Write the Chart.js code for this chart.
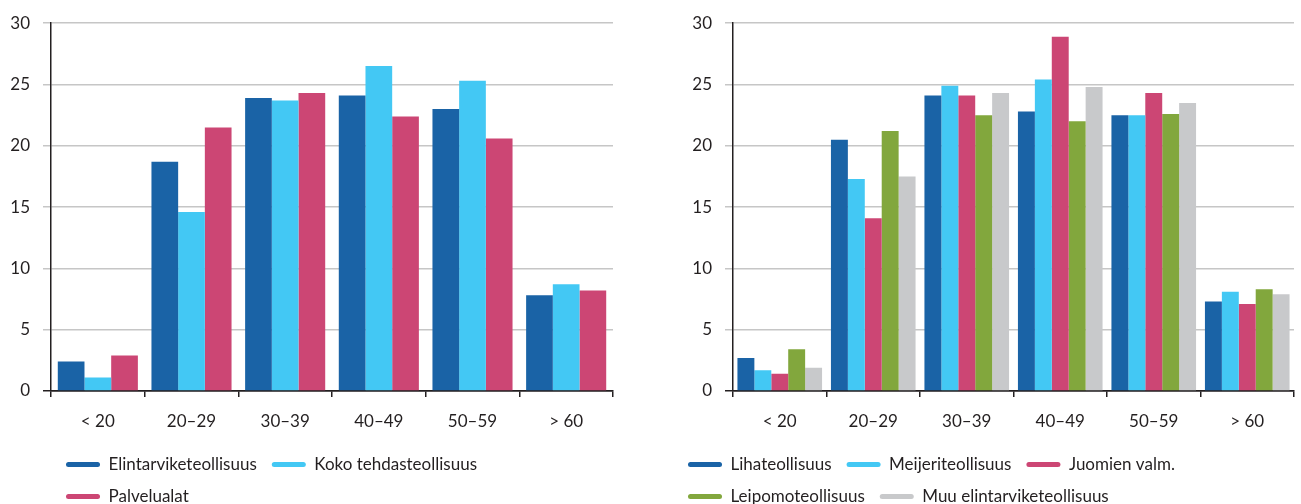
<!DOCTYPE html>
<html>
<head>
<meta charset="utf-8">
<script src="https://cdn.jsdelivr.net/npm/chart.js@4.4.1/dist/chart.umd.min.js"></script>
<style>
    html, body { margin: 0; padding: 0; background: #fff; width: 1301px; height: 504px; overflow: hidden; }
    .box { position: absolute; top: 0; height: 515px; }
    #box-left { left: 0; width: 620px; }
    #box-right { left: 673px; width: 628px; }
</style>
</head>
<body>
<div class="box" id="box-left"><canvas id="chart-left"></canvas></div>
<div class="box" id="box-right"><canvas id="chart-right"></canvas></div>
<script>
// ============================================
// DATA
// ============================================

const ageGroups = ['< 20', '20–29', '30–39', '40–49', '50–59', '> 60'];

// Left chart: share of employees by age group (%)
const elintarviketeollisuus = [2.4, 18.7, 23.9, 24.1, 23.0, 7.8];
const kokoTehdasteollisuus  = [1.1, 14.6, 23.7, 26.5, 25.3, 8.7];
const palvelualat           = [2.9, 21.5, 24.3, 22.4, 20.6, 8.2];

// Right chart: food industry branches (%)
const lihateollisuus      = [2.7, 20.5, 24.1, 22.8, 22.5, 7.3];
const meijeriteollisuus   = [1.7, 17.3, 24.9, 25.4, 22.5, 8.1];
const juomienValm         = [1.4, 14.1, 24.1, 28.9, 24.3, 7.1];
const leipomoteollisuus   = [3.4, 21.2, 22.5, 22.0, 22.6, 8.3];
const muuElintarvike      = [1.9, 17.5, 24.3, 24.8, 23.5, 7.9];

const yMin = 0, yMax = 30, yStep = 5;

// ============================================
// STYLE
// ============================================

const colors = {
    darkBlue: '#1a63a6',
    lightBlue: '#43c8f4',
    pink: '#cc4674',
    green: '#82a73d',
    gray: '#c8c9cb'
};

const fontFamily = "Lato, 'Noto Sans', sans-serif";
const fontSize = 17;
const textColor = '#231f20';
const gridColor = '#c6c6c6';
const axisColor = '#231f20';

function makeOptions(yAxisWidth, catPct, legendFull) {
    return {
        responsive: true,
        maintainAspectRatio: false,
        animation: false,
        layout: { padding: { top: 22.5, right: 7, bottom: 0, left: 0 } },
        datasets: { bar: { categoryPercentage: catPct, barPercentage: 1 } },
        plugins: {
            tooltip: { enabled: false },
            legend: {
                position: 'bottom',
                align: 'start',
                fullSize: legendFull,
                labels: {
                    color: textColor,
                    font: { family: fontFamily, size: fontSize },
                    boxWidth: 34,
                    boxHeight: 5,
                    useBorderRadius: true,
                    borderRadius: 2.5,
                    padding: 15
                }
            }
        },
        scales: {
            x: {
                afterFit: s => { s.height = 50; },
                border: { color: axisColor, width: 1.5 },
                grid: {
                    offset: true,
                    drawOnChartArea: false,
                    tickLength: 6,
                    color: axisColor,
                    lineWidth: 1.5
                },
                ticks: {
                    color: textColor,
                    padding: 14,
                    font: { family: fontFamily, size: fontSize }
                }
            },
            y: {
                min: yMin,
                max: yMax,
                afterFit: s => { s.width = yAxisWidth; },
                border: { color: axisColor, width: 1.5 },
                grid: {
                    tickLength: 8,
                    color: ctx => (ctx.tick && ctx.tick.value === 0) ? axisColor : gridColor,
                    lineWidth: 1.5
                },
                ticks: {
                    stepSize: yStep,
                    color: textColor,
                    padding: 13,
                    font: { family: fontFamily, size: fontSize }
                }
            }
        }
    };
}

// ============================================
// CHARTS
// ============================================

new Chart(document.getElementById('chart-left'), {
    type: 'bar',
    data: {
        labels: ageGroups,
        datasets: [
            { label: 'Elintarviketeollisuus', data: elintarviketeollisuus, backgroundColor: colors.darkBlue },
            { label: 'Koko tehdasteollisuus', data: kokoTehdasteollisuus, backgroundColor: colors.lightBlue },
            { label: 'Palvelualat', data: palvelualat, backgroundColor: colors.pink }
        ]
    },
    options: makeOptions(51, 0.855, false)
});

new Chart(document.getElementById('chart-right'), {
    type: 'bar',
    data: {
        labels: ageGroups,
        datasets: [
            { label: 'Lihateollisuus', data: lihateollisuus, backgroundColor: colors.darkBlue },
            { label: 'Meijeriteollisuus', data: meijeriteollisuus, backgroundColor: colors.lightBlue },
            { label: 'Juomien valm.', data: juomienValm, backgroundColor: colors.pink },
            { label: 'Leipomoteollisuus', data: leipomoteollisuus, backgroundColor: colors.green },
            { label: 'Muu elintarviketeollisuus', data: muuElintarvike, backgroundColor: colors.gray }
        ]
    },
    options: makeOptions(60, 0.905, true)
});
</script>
</body>
</html>
